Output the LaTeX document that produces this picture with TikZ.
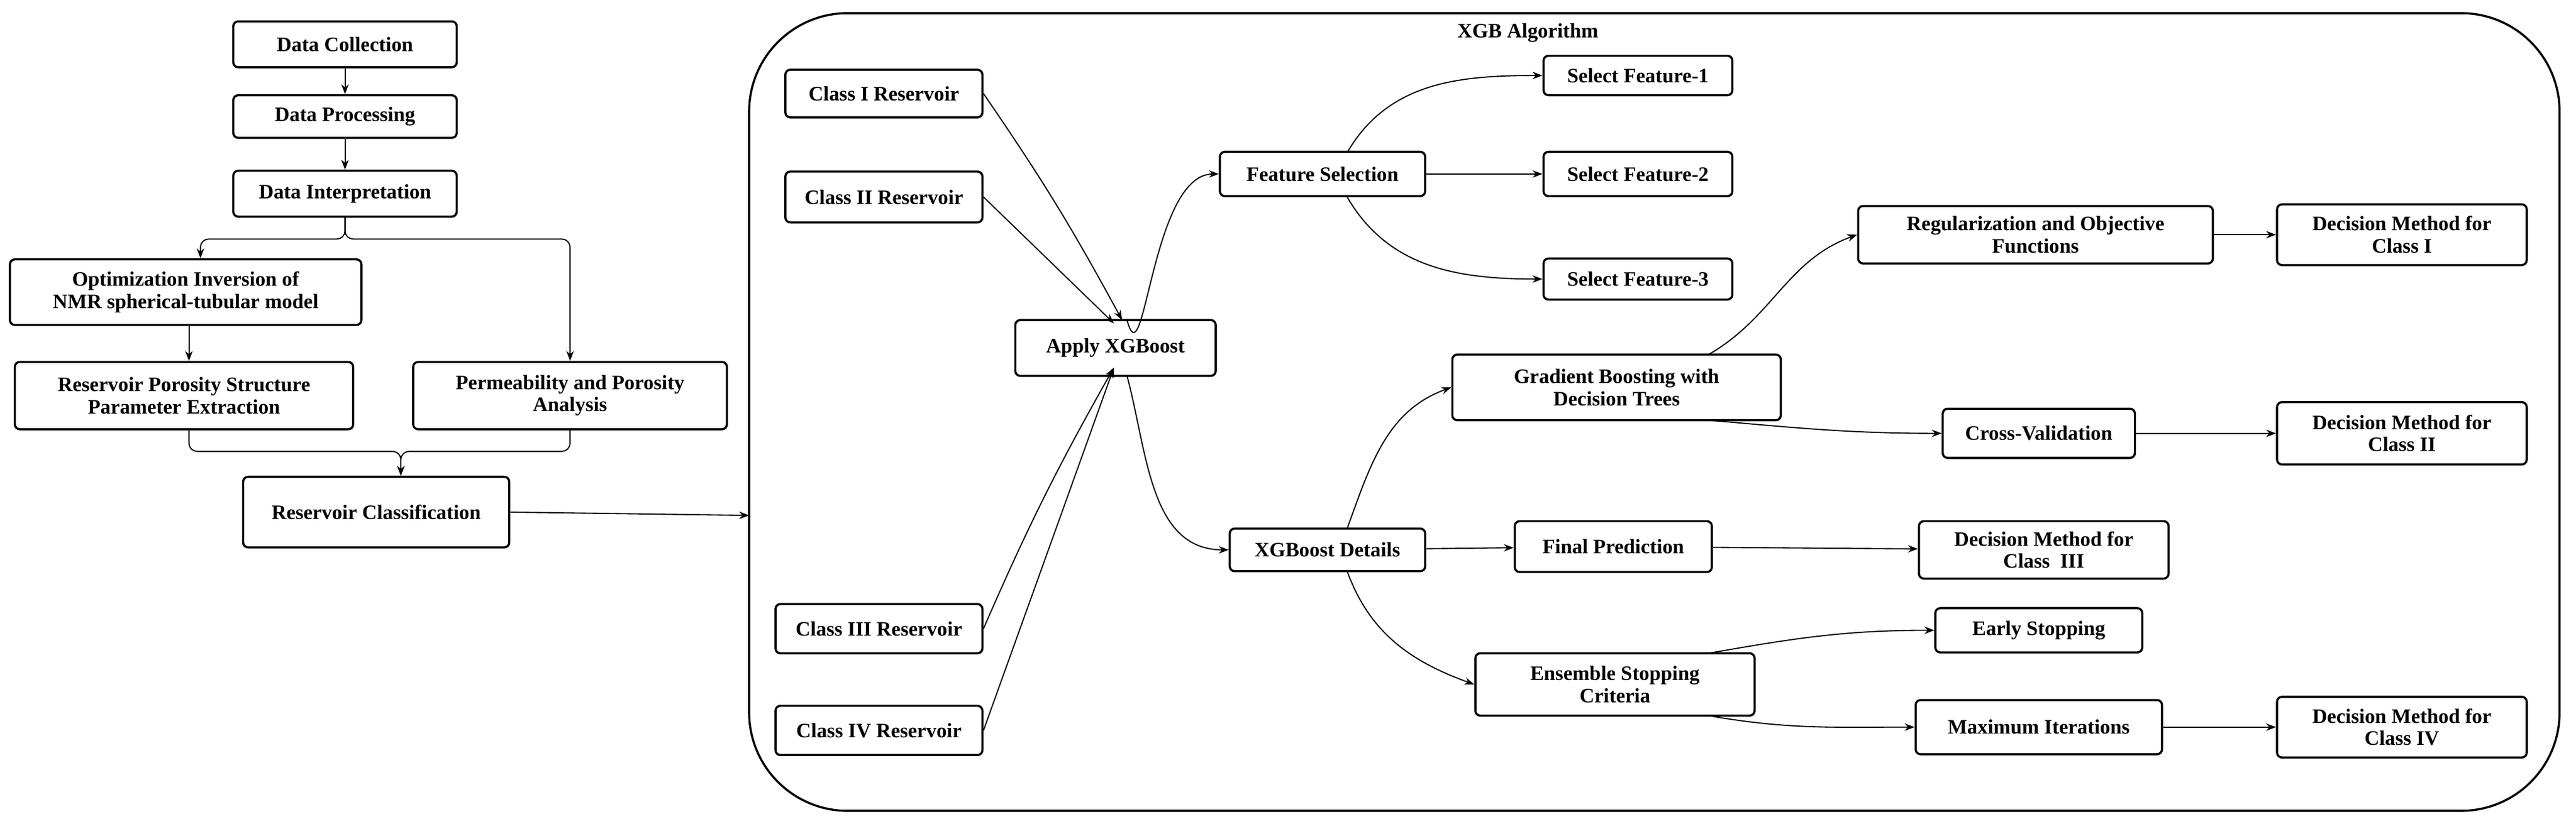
\documentclass[tikz,border=0pt]{standalone}
\usepackage{fontspec}
\setmainfont{Liberation Serif}
\usetikzlibrary{arrows.meta}
\begin{document}
\begin{tikzpicture}[x=0.03515cm,y=-0.03515cm,
 bx/.style={draw,line width=1.3pt,rounded corners=3pt,font=\bfseries\fontsize{12.5}{13.5}\selectfont,align=center,inner sep=0pt},
 ar/.style={-{Stealth[length=6pt,width=4.5pt]},line width=0.7pt}]
\useasboundingbox (0,0) rectangle (1568,502);
\newcommand\B[6]{\node[bx,minimum width=#4,minimum height=#5] (#1) at (#2,#3) {#6};}
\B{dc}{210}{27}{136}{28}{Data Collection}
\B{dp}{210}{71}{136}{26}{Data Processing}
\B{di}{210}{118}{136}{28}{Data Interpretation}
\B{opt}{113}{178}{214}{40}{Optimization Inversion of\\NMR spherical-tubular model}
\B{rp}{112}{241}{206}{41}{Reservoir Porosity Structure\\Parameter Extraction}
\B{pp}{347}{241}{191}{41}{Permeability and Porosity\\Analysis}
\B{rc}{229}{312}{162}{43}{Reservoir Classification}
\draw[line width=1.3pt,rounded corners=60pt] (456,8) rectangle (1558,494);
\coordinate (bigl) at (456,314);
\node[font=\bfseries\fontsize{12.5}{13.5}\selectfont] (xgb) at (930,20) {XGB Algorithm};
\B{c1}{538}{57}{120}{29}{Class I Reservoir}
\B{c2}{538}{120}{120}{31}{Class II Reservoir}
\B{c3}{535}{383}{126}{30}{Class III Reservoir}
\B{c4}{535}{445}{126}{30}{Class IV Reservoir}
\B{ap}{679}{212}{122}{34}{Apply XGBoost}
\B{fs}{805}{106}{125}{27}{Feature Selection}
\B{f1}{997}{46}{115}{24}{Select Feature-1}
\B{f2}{997}{106}{115}{27}{Select Feature-2}
\B{f3}{997}{170}{115}{25}{Select Feature-3}
\B{reg}{1239}{143}{216}{35}{Regularization and Objective\\Functions}
\B{d1}{1462}{143}{152}{37}{Decision Method for\\Class I}
\B{gb}{984}{236}{200}{40}{Gradient Boosting with\\Decision Trees}
\B{cv}{1241}{264}{117}{30}{Cross-Validation}
\B{d2}{1462}{264}{152}{38}{Decision Method for\\Class II}
\B{xd}{808}{335}{119}{26}{XGBoost Details}
\B{fp}{982}{333}{120}{31}{Final Prediction}
\B{d3}{1244}{335}{152}{35}{Decision Method for\\Class \ III}
\B{es}{983}{417}{170}{38}{Ensemble Stopping\\Criteria}
\B{early}{1241}{384}{126}{27}{Early Stopping}
\B{mi}{1241}{443}{150}{33}{Maximum Iterations}
\B{d4}{1462}{443}{152}{37}{Decision Method for\\Class IV}
% left edges
\draw[ar] (dc) -- (dp);
\draw[ar] (dp) -- (di);
\draw[ar,rounded corners=5pt] (di.south) -- ++(0,13) -| (opt.north west -| 122,0) ;
\draw[ar,rounded corners=5pt] (di.south) -- ++(0,13) -| (pp.north);
\draw[ar] (opt.south -| 115,0) -- (rp.north -| 115,0);
\draw[ar,rounded corners=5pt] (rp.south -| 115,0) -- (115,275) -| (rc.north -| 244,0);
\draw[ar,rounded corners=5pt] (pp.south) -- (347,275) -| (rc.north -| 244,0);
\draw[ar] (rc.east) -- (bigl);
% right edges
\draw[ar] (c1.east) to[bend left=3] (683,195);
\draw[ar] (c2.east) -- (678,197);
\draw[ar] (c3.east) to[bend left=3] (678,224);
\draw[ar] (c4.east) -- (678,224);
\draw[ar] (686,195) to[out=-75,in=180] (fs.west);
\draw[ar] (686,229) to[out=-75,in=180] (xd.west);
\draw[ar] (820,93) to[out=60,in=180] (f1.west);
\draw[ar] (fs) -- (f2);
\draw[ar] (820,120) to[out=-60,in=180] (f3.west);
\draw[ar] (1040,216) to[out=30,in=200] (reg.west);
\draw[ar] (1040,256) to[out=-5,in=180] (cv.west);
\draw[ar] (reg) -- (d1);
\draw[ar] (cv) -- (d2);
\draw[ar] (820,322) to[out=70,in=200] (gb.west);
\draw[ar] (xd) -- (fp);
\draw[ar] (fp) -- (d3);
\draw[ar] (820,348) to[out=-70,in=160] (es.west);
\draw[ar] (1040,398) to[out=10,in=180] (early.west);
\draw[ar] (1040,436) to[out=-10,in=180] (mi.west);
\draw[ar] (mi) -- (d4);
\end{tikzpicture}
\end{document}
